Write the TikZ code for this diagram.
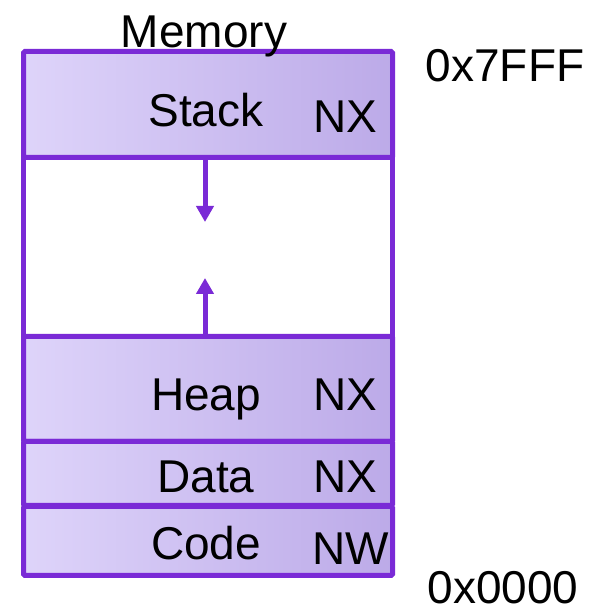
\documentclass[tikz,border=0pt]{standalone}
\usepackage{fontspec}
\setmainfont{Liberation Sans}
\usetikzlibrary{arrows.meta}
\definecolor{edge}{RGB}{122,42,214}
\definecolor{fillL}{RGB}{222,212,250}
\definecolor{fillR}{RGB}{188,170,232}
\begin{document}
\begin{tikzpicture}[x=1pt,y=1pt,
  seg/.style={draw=edge, line width=5pt, left color=fillL, right color=fillR, rounded corners=1.5pt, minimum width=369pt, inner sep=0pt, anchor=south west},
  gapbox/.style={draw=edge, line width=5pt, fill=white, minimum width=369pt, inner sep=0pt, anchor=south west},
  lbl/.style={font=\fontsize{46}{50}\selectfont, anchor=base, inner sep=0pt},
  growarrow/.style={draw=edge, line width=5pt, -{Triangle[width=17pt,length=16pt]}}
]
\useasboundingbox (0,0) rectangle (601,615);
\node[gapbox, minimum height=179pt] (mid) at (21,276) {};
\node[seg, minimum height=106pt] (stack) at (21,455) {};
\node[seg, minimum height=105pt] (heap) at (21,171) {};
\node[seg, minimum height=64pt] (data) at (21,107) {};
\node[seg, minimum height=69pt] (code) at (21,37) {};
\coordinate (dtip) at (205,393);
\coordinate (utip) at (205,337);
\draw[growarrow] (stack.south -| dtip) -- (dtip);
\draw[growarrow] (heap.north -| utip) -- (utip);
\node[lbl] (mem) at (204,567) {Memory};
\node[lbl] (stk) at (206,488) {Stack};
\node[lbl] (stknx) at (345,482) {NX};
\node[lbl] (hp) at (206,204) {Heap};
\node[lbl] (hpnx) at (345,204) {NX};
\node[lbl] (dt) at (206,122) {Data};
\node[lbl] (dtnx) at (345,122) {NX};
\node[lbl] (cd) at (206,55) {Code};
\node[lbl] (cdnw) at (351,50) {NW};
\node[lbl] (top) at (505,533) {0x7FFF};
\node[lbl] (bot) at (503,11) {0x0000};
\end{tikzpicture}
\end{document}
